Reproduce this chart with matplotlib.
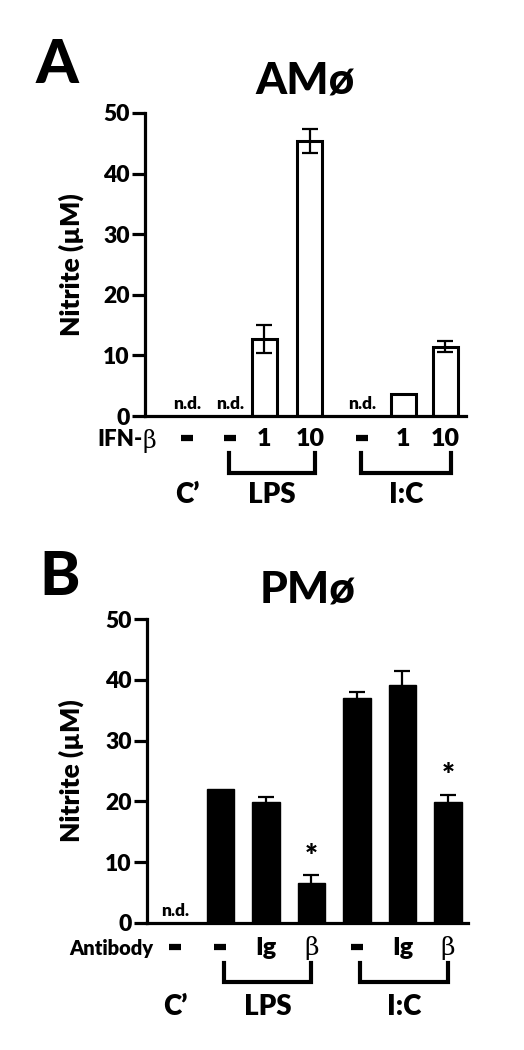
import matplotlib
matplotlib.use("Agg")
import matplotlib.pyplot as plt

plt.rcParams['font.family'] = ['Lato', 'DejaVu Sans']
plt.rcParams['font.weight'] = 'bold'

# panel A - alveolar macrophages, IFN-beta dose
ifn_labels = ["-", "-", "1", "10", "-", "1", "10"]
nitrite_a = [0, 0, 12.7, 45.4, 0, 3.7, 11.4]
err_a = [0, 0, 2.3, 2.0, 0, 0, 0.9]
nd_a = [True, True, False, False, True, False, False]

# panel B - peritoneal macrophages, antibody
ab_labels = ["-", "-", "Ig", "β", "-", "Ig", "β"]
nitrite_b = [0, 22.0, 19.9, 6.5, 37.0, 39.1, 19.9]
err_b = [0, 0, 0.8, 1.4, 1.0, 2.3, 1.2]
nd_b = [True, False, False, False, False, False, False]
star_b = [False, False, False, True, False, False, True]

groups = ["C\u2019", "LPS", "I:C"]
yticks = [0, 10, 20, 30, 40, 50]

# layout (x positions of the bars, in bar units)
xpos_a = [0, 0.95, 1.7, 2.7, 3.85, 4.75, 5.67]
xpos_b = [0, 1, 2, 3, 4, 5, 6]

fig = plt.figure(figsize=(5.24, 10.5), dpi=100)
axA = fig.add_axes([0.2767, 0.6038, 0.6126, 0.2886])
axB = fig.add_axes([0.2805, 0.1212, 0.6126, 0.2892])


def style_axis(ax, xlim, labx):
    ax.set_ylim(0, 50)
    ax.set_xlim(*xlim)
    ax.set_yticks(yticks)
    ax.set_xticks([])
    for s in ["top", "right"]:
        ax.spines[s].set_visible(False)
    for s in ["left", "bottom"]:
        ax.spines[s].set_linewidth(2.3)
    ax.tick_params(axis="y", length=9.5, width=2.3, pad=1.5, labelsize=16.5)
    for t in ax.get_yticklabels():
        t.set_fontweight("heavy")
    ax.set_ylabel("Nitrite (\u00b5M)", fontsize=19, fontweight="heavy")
    ax.yaxis.set_label_coords(labx, 0.5)


def row_labels(ax, xpos, labels, y):
    tr = ax.get_xaxis_transform()
    for x, lab in zip(xpos, labels):
        if lab == "β":
            ax.text(x, y, lab, transform=tr, ha="center", va="center",
                    fontsize=18, family="DejaVu Serif", fontweight="normal")
        elif lab == "-":
            ax.plot([x], [y + 0.002], transform=tr, marker="_", markersize=8,
                    mew=4.5, color="black", clip_on=False)
        else:
            ax.text(x, y, lab, transform=tr, ha="center", va="center",
                    fontsize=18, fontweight="heavy")


def brackets(ax, xpos, y0, y1, ylab, pad):
    tr = ax.get_xaxis_transform()
    ax.text(xpos[0], ylab, groups[0], transform=tr, ha="center", va="center",
            fontsize=20, fontweight="heavy")
    for g, idx in zip(groups[1:], [(1, 3), (4, 6)]):
        xa = xpos[idx[0]] - pad[0]
        xb = xpos[idx[1]] + pad[1]
        ax.plot([xa, xa, xb, xb], [y0, y1, y1, y0], color="black", lw=3,
                transform=tr, clip_on=False, solid_joinstyle="miter")
        ax.text((xa + xb) / 2, ylab, g, transform=tr, ha="center", va="center",
                fontsize=20, fontweight="heavy")


# ---- A ----
style_axis(axA, (-0.92, 6.13), -0.19)
xa = [x for x, n in zip(xpos_a, nd_a) if not n]
va = [v for v, n in zip(nitrite_a, nd_a) if not n]
axA.bar(xa, va, width=0.55, color="white", edgecolor="black", linewidth=2.2, zorder=2)
ex = [x for x, e in zip(xpos_a, err_a) if e > 0]
ev = [v for v, e in zip(nitrite_a, err_a) if e > 0]
ee = [e for e in err_a if e > 0]
axA.errorbar(ex, ev, yerr=ee, fmt="none", ecolor="black", elinewidth=1.6,
             capsize=6, capthick=1.6, zorder=3)
for x, n in zip(xpos_a, nd_a):
    if n:
        axA.text(x, 0.6, "n.d.", ha="center", va="bottom", fontsize=12.5, fontweight="heavy")
row_labels(axA, xpos_a, ifn_labels, -0.075)
trA = axA.get_xaxis_transform()
axA.text(-0.98, -0.079, "IFN-", transform=trA, ha="right",
         va="center", fontsize=16, fontweight="heavy")
axA.text(-0.98, -0.082, "β", transform=trA, ha="left",
         va="center", fontsize=17, family="DejaVu Serif", fontweight="normal")
brackets(axA, xpos_a, -0.122, -0.188, -0.261, (0.03, 0.12))
axA.set_title("AMø", fontsize=32, fontweight="black", pad=14)
fig.text(0.067, 0.911, "A", fontsize=44, fontweight="black", va="bottom")

# ---- B ----
style_axis(axB, (-0.615, 6.44), -0.197)
xb = [x for x, n in zip(xpos_b, nd_b) if not n]
vb = [v for v, n in zip(nitrite_b, nd_b) if not n]
ex = [x for x, e in zip(xpos_b, err_b) if e > 0]
ev = [v for v, e in zip(nitrite_b, err_b) if e > 0]
ee = [e for e in err_b if e > 0]
axB.errorbar(ex, ev, yerr=ee, fmt="none", ecolor="black", elinewidth=1.6,
             capsize=6, capthick=1.6, zorder=1)
axB.bar(xb, vb, width=0.6, color="black", edgecolor="black", linewidth=1, zorder=2)
for x, n in zip(xpos_b, nd_b):
    if n:
        axB.text(x, 0.6, "n.d.", ha="center", va="bottom", fontsize=12.5, fontweight="heavy")
for x, v, e, s in zip(xpos_b, nitrite_b, err_b, star_b):
    if s:
        axB.text(x, v + e + 3.0, "*", ha="center", va="center", fontsize=22, fontweight="heavy")
row_labels(axB, xpos_b, ab_labels, -0.082)
axB.text(-0.48, -0.084, "Antibody", transform=axB.get_xaxis_transform(), ha="right",
         va="center", fontsize=14.5, fontweight="heavy")
brackets(axB, xpos_b, -0.133, -0.195, -0.278, (-0.07, 0.0))
axB.set_title("PMø", fontsize=32, fontweight="black", pad=12)
fig.text(0.076, 0.424, "B", fontsize=44, fontweight="black", va="bottom")

fig.savefig("out.png", dpi=100)
